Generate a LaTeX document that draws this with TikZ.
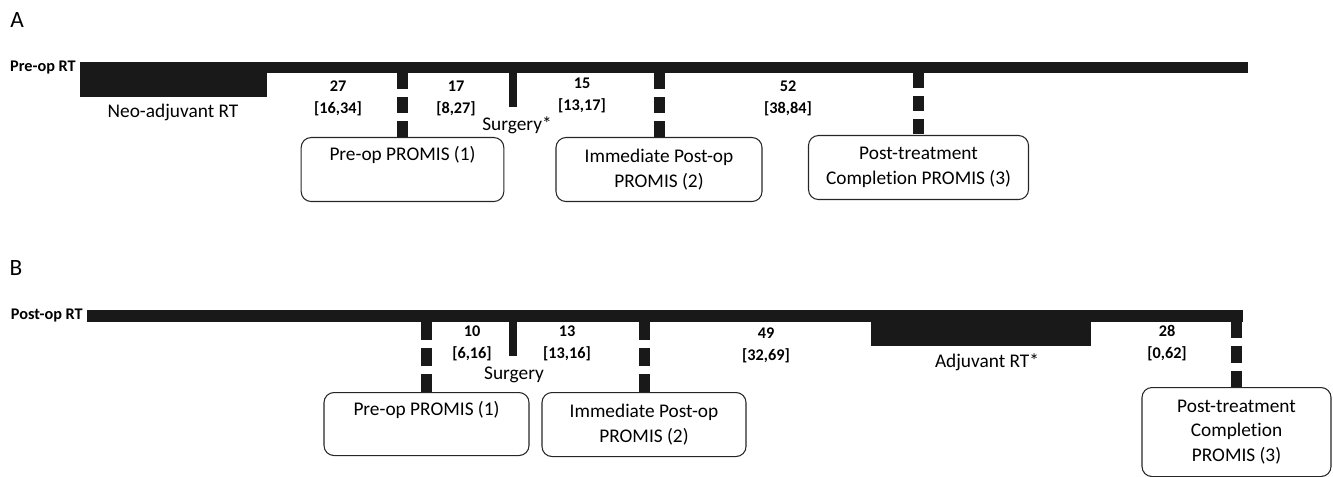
\documentclass[tikz,border=0pt]{standalone}
\usepackage{fontspec}
\setmainfont{Carlito}[Ligatures={NoCommon}]
\usetikzlibrary{positioning,fit}

\begin{document}
\begin{tikzpicture}[%
    x=0.75pt, y=-0.75pt,        % one unit is one pixel of the scan
    bar/.style={fill=black!90, inner sep=0pt, outer sep=0pt},
    promis/.style={draw=black!85, line width=0.8pt, rounded corners=7.5pt, anchor=north,
      align=center, inner sep=2pt, font=\fontsize{14.5}{18.5}\selectfont},
    num/.style={align=center, inner sep=0pt, font=\fontsize{12.2}{16.5}\selectfont\bfseries},
    lbl/.style={inner sep=0pt, font=\fontsize{14.5}{17}\selectfont},
    rowlbl/.style={inner sep=0pt, font=\fontsize{12.2}{14}\selectfont\bfseries},
    panel/.style={inner sep=0pt, font=\fontsize{17.5}{20}\selectfont},
    % dashed link from the time line down to a PROMIS box
    tickd/.style={draw=black!90, line width=8.25pt, dash pattern=on #1 off 6pt},
    tickd/.default=12pt,
    % solid mark for the surgery
    cut/.style={draw=black!90, line width=6pt},
  ]

  \useasboundingbox (0,0) rectangle (1333,477);

  % -------------------------------------------------
  % A: pre-op RT
  \node[panel] (panA) at (17,20) {A};
  \node[bar, fit={(80,62) (1248,73)}] (barA) {};
  \node[bar, fit={(80,62) (267,97)}] (neoA) {};
  \node[rowlbl, left=3pt of barA.west] (rowA) {Pre-op RT};
  \node[lbl] (neoAlbl) at (173,112) {Neo-adjuvant RT};

  \node[promis, minimum width=152pt, minimum height=48pt] (preA) at (402.5,137) {Pre-op PROMIS (1)\\ \strut};
  \node[promis, minimum width=154.5pt, minimum height=48pt] (postA) at (659,137) {Immediate Post-op\\PROMIS (2)};
  \node[promis, minimum width=165pt, minimum height=48pt] (endA) at (918.5,135) {Post-treatment\\Completion PROMIS (3)};

  \draw[tickd] (preA.north |- barA.south) -- (preA.north);
  \draw[tickd] (postA.north |- barA.south) -- (postA.north);
  \draw[tickd=11.25pt] (endA.north |- barA.south) -- (endA.north);

  \coordinate (surgA) at (513,107);
  \draw[cut] (surgA |- barA.south) -- (surgA);
  \node[lbl] (surgAlbl) at (517,125) {Surgery*};

  \node[num] (dA1) at (338,98) {27\\{[16,34]}};
  \node[num] (dA2) at (456,98) {17\\{[8,27]}};
  \node[num] (dA3) at (582,95) {15\\{[13,17]}};
  \node[num] (dA4) at (788,98) {52\\{[38,84]}};

  % -------------------------------------------------
  % B: post-op RT
  \node[panel] (panB) at (16,268) {B};
  \node[bar, fit={(87,310) (1242.5,322)}] (barB) {};
  \node[bar, fit={(871,310) (1091,346)}] (adjB) {};
  \node[rowlbl, left=3pt of barB.west] (rowB) {Post-op RT};
  \node[lbl] (adjBlbl) at (987,362) {Adjuvant RT*};

  \node[promis, minimum width=153.75pt, minimum height=47.25pt] (preB) at (426.5,392) {Pre-op PROMIS (1)\\ \strut};
  \node[promis, minimum width=153pt, minimum height=48pt] (postB) at (644,392) {Immediate Post-op\\PROMIS (2)};
  \node[promis, minimum width=141.75pt, minimum height=66.75pt] (endB) at (1236.5,387) {Post-treatment\\Completion\\PROMIS (3)};

  \draw[tickd=13.5pt] (preB.north |- barB.south) -- (preB.north);
  \draw[tickd=13.5pt] (postB.north |- barB.south) -- (postB.north);
  \draw[tickd=12.25pt] (endB.north |- barB.south) -- (endB.north);

  \coordinate (surgB) at (513,356);
  \draw[cut] (surgB |- barB.south) -- (surgB);
  \node[lbl] (surgBlbl) at (514,375) {Surgery};

  \node[num] (dB1) at (472,343) {10\\{[6,16]}};
  \node[num] (dB2) at (567,343) {13\\{[13,16]}};
  \node[num] (dB3) at (766,345) {49\\{[32,69]}};
  \node[num] (dB4) at (1167,343) {28\\{[0,62]}};
\end{tikzpicture}
\end{document}
